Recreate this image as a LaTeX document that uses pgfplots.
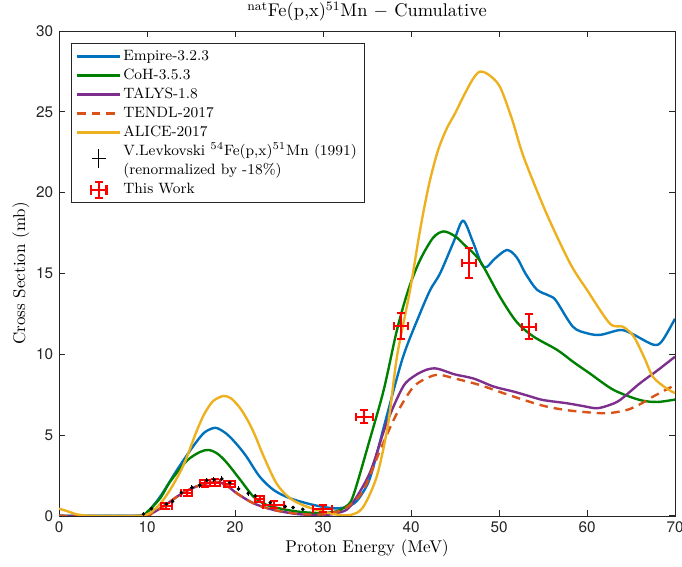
\documentclass[border=0pt]{standalone}
\usepackage{fontspec}
\setsansfont{TeX Gyre Heros}
\usepackage{pgfplots}
\pgfplotsset{compat=1.18}
\definecolor{mblue}{rgb}{0,0.447,0.741}
\definecolor{mgreen}{rgb}{0,0.5,0}
\definecolor{mpurple}{rgb}{0.494,0.184,0.556}
\definecolor{morange}{rgb}{0.85,0.325,0.098}
\definecolor{myellow}{rgb}{0.929,0.694,0.125}
\definecolor{axgray}{rgb}{0.15,0.15,0.15}
\begin{document}
\begin{tikzpicture}
\begin{axis}[
  scale only axis,
  width=362pt, height=285pt,
  xmin=0, xmax=70, ymin=0, ymax=30,
  xtick={0,10,...,70}, ytick={0,5,...,30},
  major tick length=3.5pt,
  tick align=inside,
  axis line style={axgray},
  tick style={axgray, line width=0.5pt},
  xticklabel={\pgfmathprintnumber[assume math mode=true]{\tick}},
  yticklabel={\pgfmathprintnumber[assume math mode=true]{\tick}},
  tick label style={font=\sffamily\fontsize{9}{10}\selectfont, text=axgray},
  title={\textsuperscript{nat}Fe(p,x)\textsuperscript{51}Mn $-$ Cumulative},
  title style={yshift=-4pt, font=\fontsize{10.8}{13}\selectfont},
  xlabel={Proton Energy (MeV)},
  ylabel={Cross Section (mb)},
  xlabel style={yshift=3pt},
  ylabel style={yshift=-3pt},
  legend cell align=left,
  legend style={at={(0.019,0.975)}, anchor=north west, draw=axgray, line width=0.5pt,
    font=\fontsize{8.8}{10.5}\selectfont,
    nodes={inner sep=1.2pt, text height=6.8pt, text depth=2pt}, row sep=0pt},
  legend image code/.code={\draw[#1] (0cm,0cm) -- (0.88cm,0cm);},
]
% Empire-3.2.3
\addplot[mblue, line width=1.4pt, smooth] coordinates {
(0,0)(8,0)(9.3,0.02)(10,0.2)(11.5,1.2)(13.4,2.84)(15.3,4.35)(16.5,5.15)(17.7,5.45)(18.6,5.25)(19.4,4.9)(20.4,4.3)(21.3,3.67)(22.8,2.43)(24.4,1.6)(26.25,1.09)(28.9,0.68)(31.2,0.47)(32.6,0.55)(33.8,0.9)(35,1.9)(35.7,3.0)(37.2,6.1)(39.1,9.85)(41,12.5)(42.2,14.0)(43.3,15.0)(44.8,16.9)(45.9,18.26)(47,17.0)(48,15.6)(48.6,15.4)(49.5,15.9)(50.9,16.45)(52,16.0)(53,15.0)(54.3,14.0)(55.8,13.6)(56.5,13.3)(58.4,11.7)(60,11.3)(61.5,11.2)(63.75,11.5)(65,11.3)(67.5,10.6)(68.5,10.8)(70,12.2)};
\addlegendentry{Empire-3.2.3}
% CoH-3.5.3
\addplot[mgreen, line width=1.4pt, smooth] coordinates {
(0,0)(8.8,0)(10,0.25)(11.5,1.1)(12.6,2.1)(14.5,3.4)(16,3.95)(17,4.08)(18,3.85)(19.05,3.3)(20.6,2.23)(22.1,1.19)(23.6,0.68)(25.9,0.37)(28,0.22)(30,0.18)(31.5,0.28)(32.5,0.55)(33.4,1.2)(35.3,4.7)(36.9,7.8)(38.4,11.5)(39.7,14.0)(41,15.8)(42.5,17.2)(43.7,17.6)(45,17.3)(46,16.8)(47.8,15.8)(50.1,13.56)(52,12.0)(53.9,11.1)(56.6,10.27)(58.5,9.5)(60.3,8.82)(63,7.8)(66,7.17)(68,7.05)(70,7.2)};
\addlegendentry{CoH-3.5.3}
% TALYS-1.8
\addplot[mpurple, line width=1.4pt, smooth] coordinates {
(0,0)(9.3,0)(10.5,0.15)(12,0.65)(14,1.4)(16,1.9)(17.9,2.1)(19,1.9)(20.2,1.4)(22.1,0.78)(24.4,0.37)(27,0.12)(29,0.06)(30.5,0.07)(31.8,0.2)(33.1,0.6)(35.3,2.64)(37.2,5.7)(39.1,8.0)(40.5,8.7)(41.8,9.05)(42.7,9.13)(43.5,9.03)(45,8.75)(47.1,8.5)(49.4,8.0)(51.6,7.7)(53.5,7.4)(55,7.17)(57.7,6.97)(59.5,6.8)(61.1,6.66)(62.5,6.85)(63.75,7.17)(66,8.2)(68,9.0)(70,9.85)};
\addlegendentry{TALYS-1.8}
% TENDL-2017
\addplot[morange, line width=1.4pt, dash pattern=on 5pt off 3.5pt, smooth] coordinates {
(0,0)(9.3,0)(10.5,0.15)(12,0.65)(14,1.4)(16,1.9)(17.9,2.1)(19,1.9)(20.2,1.4)(22.1,0.78)(24.4,0.37)(27,0.14)(29,0.08)(30.5,0.12)(31.8,0.3)(33,0.65)(34.6,1.6)(36.5,4.08)(38.4,6.35)(40.3,8.0)(42.2,8.62)(43.3,8.72)(45,8.5)(47.8,8.1)(51,7.5)(54.7,6.86)(57,6.6)(59.2,6.45)(62.2,6.35)(64.5,6.55)(66,6.9)(67.5,7.38)(70,8.1)};
\addlegendentry{TENDL-2017}
% ALICE-2017
\addplot[myellow, line width=1.4pt, smooth] coordinates {
(0,0.45)(1,0.28)(2,0.1)(3,0.02)(4,0)(9,0)(10.3,0.17)(11.5,0.75)(12.6,1.6)(13.75,2.7)(14.5,3.6)(15.6,5.2)(16.5,6.3)(17.5,7.1)(18.7,7.42)(19.6,7.25)(20.6,6.65)(21.5,5.85)(22.3,4.95)(23.2,3.75)(24.7,2.02)(26.25,1.09)(28.1,0.58)(30,0.27)(31.6,0.08)(33.1,0.06)(34.5,0.5)(36.1,2.43)(37.4,5.7)(38.4,9.85)(39.9,14.0)(41,17.6)(42,20.4)(43,22.5)(44,23.9)(45,24.9)(46,26.0)(47,27.0)(47.8,27.48)(48.8,27.3)(50.1,26.55)(51.5,24.5)(52.8,22.2)(55.4,18.7)(58.1,15.6)(60,13.98)(62.6,11.9)(64.1,11.7)(65.3,11.1)(66.5,9.8)(67.5,8.6)(69,7.9)(70,7.6)};
\addlegendentry{ALICE-2017}
% Levkovski
\addplot[black, only marks, mark=*, mark size=0.8pt, line width=0.5pt, forget plot,
  error bars/.cd, y dir=both, y explicit, error mark=none,
  error bar style={black, line width=0.5pt}]
  table[x index=0, y index=1, y error index=2] {
9.6 0.12 0.08
10.5 0.45 0.1
12.2 0.74 0.12
12.9 0.9 0.12
13.9 1.44 0.14
15.1 1.75 0.15
16.0 1.9 0.15
16.8 2.2 0.16
17.6 2.25 0.16
18.5 2.29 0.16
19.4 2.05 0.16
20.4 1.67 0.15
21.5 1.4 0.14
22.3 1.24 0.13
24.0 0.82 0.1
25.7 0.58 0.08
26.6 0.52 0.08
27.7 0.41 0.07
};
\addlegendimage{legend image code/.code={\draw[overlay, black, line width=0.6pt] (0.44cm,-0.34cm)--(0.44cm,0.06cm) (0.3cm,-0.14cm)--(0.58cm,-0.14cm);}}
\addlegendentry{V.Levkovski \textsuperscript{54}Fe(p,x)\textsuperscript{51}Mn (1991)}
\addlegendimage{empty legend}
\addlegendentry{(renormalized by -18\%)}
% This Work
\addplot[red, only marks, mark=text, text mark={}, forget plot,
  error bars/.cd, x dir=both, x explicit, y dir=both, y explicit,
  error bar style={red, line width=1.2pt},
  error mark options={rotate=90, red, line width=1.2pt, mark size=2.4pt}]
  table[x index=0, y index=1, x error index=2, y error index=3] {
12.2 0.6 0.65 0.2
14.5 1.42 0.6 0.2
16.6 2.02 0.6 0.2
17.7 2.06 0.6 0.2
19.4 1.96 0.6 0.2
22.8 1.05 0.5 0.2
24.4 0.7 1.2 0.2
29.95 0.45 1.05 0.2
34.7 6.14 0.95 0.41
38.9 11.75 0.8 0.8
46.6 15.63 0.8 0.93
53.4 11.7 0.8 0.78
};
\addlegendimage{legend image code/.code={\draw[red, line width=1.2pt] (0.28cm,0cm)--(0.6cm,0cm) (0.28cm,-0.1cm)--(0.28cm,0.1cm) (0.6cm,-0.1cm)--(0.6cm,0.1cm) (0.44cm,-0.16cm)--(0.44cm,0.16cm) (0.36cm,-0.16cm)--(0.52cm,-0.16cm) (0.36cm,0.16cm)--(0.52cm,0.16cm);}}
\addlegendentry{This Work}
\end{axis}
\pgfresetboundingbox
\path[use as bounding box] ([xshift=-34.7pt,yshift=-30pt]current axis.south west) rectangle ([xshift=4.1pt,yshift=18.2pt]current axis.north east);
\end{tikzpicture}
\end{document}
